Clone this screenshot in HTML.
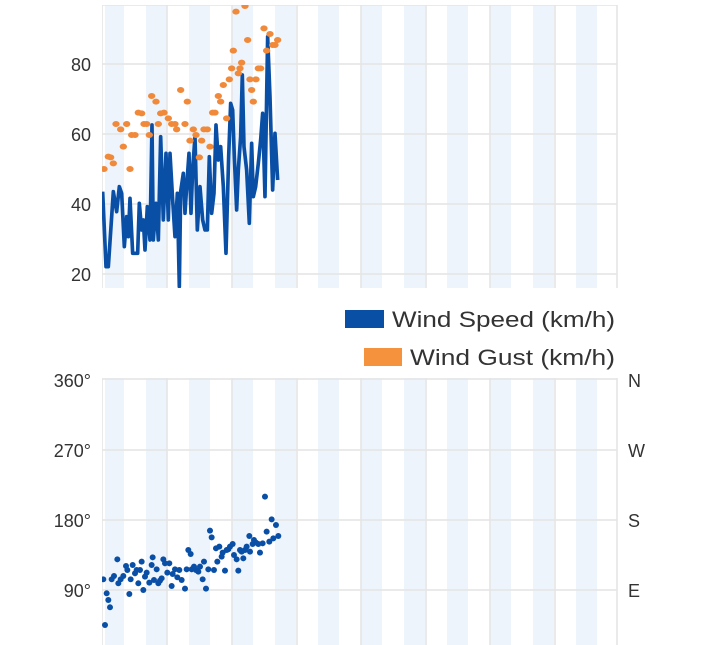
<!DOCTYPE html>
<html><head><meta charset="utf-8"><style>
html,body{margin:0;padding:0;background:#fff;width:720px;height:645px;overflow:hidden;}
svg{display:block;font-family:"Liberation Sans",sans-serif;}
</style></head><body>
<svg width="720" height="645" viewBox="0 0 720 645" xmlns="http://www.w3.org/2000/svg">
<defs>
<g id="bands" fill="#edf4fc">
<rect x="105" width="19" height="1000"/><rect x="146" width="21" height="1000"/><rect x="189" width="21" height="1000"/><rect x="232" width="21" height="1000"/><rect x="275" width="21" height="1000"/><rect x="318" width="21" height="1000"/><rect x="361" width="21" height="1000"/><rect x="404" width="21" height="1000"/><rect x="447" width="21" height="1000"/><rect x="490" width="21" height="1000"/><rect x="533" width="21" height="1000"/><rect x="576" width="21" height="1000"/>
</g>
<g id="vgrid" stroke="#e4e4e4" stroke-width="1.5">
<line x1="102" x2="102" y1="0" y2="1000"/><line x1="167" x2="167" y1="0" y2="1000"/><line x1="232" x2="232" y1="0" y2="1000"/><line x1="297" x2="297" y1="0" y2="1000"/><line x1="361" x2="361" y1="0" y2="1000"/><line x1="426" x2="426" y1="0" y2="1000"/><line x1="490" x2="490" y1="0" y2="1000"/><line x1="555" x2="555" y1="0" y2="1000"/><line x1="617" x2="617" y1="0" y2="1000"/>
</g>
<clipPath id="c1"><rect x="102" y="5" width="516" height="283"/></clipPath>
<clipPath id="c2"><rect x="102" y="378" width="516" height="267"/></clipPath>
</defs>

<g clip-path="url(#c1)">
<use href="#bands"/><use href="#vgrid"/>
<g stroke="#e4e4e4" stroke-width="1.5">
<line x1="102" x2="617" y1="5" y2="5"/><line x1="102" x2="617" y1="64" y2="64"/><line x1="102" x2="617" y1="134" y2="134"/><line x1="102" x2="617" y1="204" y2="204"/><line x1="102" x2="617" y1="274" y2="274"/>
</g>
<g transform="translate(90,0) scale(0.3333)">
<polyline fill="none" stroke="#0a4fa6" stroke-width="11" stroke-linejoin="round" points="38,575 48,800 55,800 70,575 80,635 88,560 95,580 103,740 110,650 115,710 120,595 128,760 135,760 143,760 148,610 155,690 160,660 165,750 172,620 180,720 186,375 190,720 198,610 205,720 212,410 220,660 228,460 235,660 240,460 248,600 255,710 262,580 268,860 272,575 280,520 285,640 290,560 297,460 303,640 308,510 315,410 322,690 330,560 338,660 345,690 352,690 358,470 365,640 372,580 378,375 385,480 392,440 400,560 408,760 416,470 422,310 428,330 433,470 440,630 445,510 452,410 457,225 462,440 470,510 478,670 485,430 490,590 497,560 505,490 512,420 518,340 525,590 533,110 540,290 548,570 555,400 563,540"/>
<g fill="#f08a3a">
<ellipse cx="42" cy="507" rx="11" ry="9"/><ellipse cx="55" cy="470" rx="11" ry="9"/><ellipse cx="62" cy="472" rx="11" ry="9"/><ellipse cx="70" cy="490" rx="11" ry="9"/><ellipse cx="78" cy="372" rx="11" ry="9"/><ellipse cx="92" cy="388" rx="11" ry="9"/><ellipse cx="100" cy="440" rx="11" ry="9"/><ellipse cx="110" cy="372" rx="11" ry="9"/><ellipse cx="120" cy="507" rx="11" ry="9"/><ellipse cx="125" cy="405" rx="11" ry="9"/><ellipse cx="135" cy="405" rx="11" ry="9"/><ellipse cx="145" cy="338" rx="11" ry="9"/><ellipse cx="155" cy="340" rx="11" ry="9"/><ellipse cx="162" cy="372" rx="11" ry="9"/><ellipse cx="170" cy="372" rx="11" ry="9"/><ellipse cx="178" cy="405" rx="11" ry="9"/><ellipse cx="185" cy="288" rx="11" ry="9"/><ellipse cx="198" cy="305" rx="11" ry="9"/><ellipse cx="205" cy="372" rx="11" ry="9"/><ellipse cx="212" cy="340" rx="11" ry="9"/><ellipse cx="222" cy="338" rx="11" ry="9"/><ellipse cx="235" cy="355" rx="11" ry="9"/><ellipse cx="245" cy="372" rx="11" ry="9"/><ellipse cx="255" cy="372" rx="11" ry="9"/><ellipse cx="260" cy="388" rx="11" ry="9"/><ellipse cx="272" cy="270" rx="11" ry="9"/><ellipse cx="285" cy="372" rx="11" ry="9"/><ellipse cx="292" cy="305" rx="11" ry="9"/><ellipse cx="300" cy="422" rx="11" ry="9"/><ellipse cx="310" cy="388" rx="11" ry="9"/><ellipse cx="318" cy="405" rx="11" ry="9"/><ellipse cx="328" cy="472" rx="11" ry="9"/><ellipse cx="335" cy="422" rx="11" ry="9"/><ellipse cx="342" cy="388" rx="11" ry="9"/><ellipse cx="352" cy="388" rx="11" ry="9"/><ellipse cx="360" cy="440" rx="11" ry="9"/><ellipse cx="368" cy="338" rx="11" ry="9"/><ellipse cx="375" cy="338" rx="11" ry="9"/><ellipse cx="385" cy="288" rx="11" ry="9"/><ellipse cx="392" cy="305" rx="11" ry="9"/><ellipse cx="400" cy="255" rx="11" ry="9"/><ellipse cx="410" cy="355" rx="11" ry="9"/><ellipse cx="418" cy="238" rx="11" ry="9"/><ellipse cx="425" cy="205" rx="11" ry="9"/><ellipse cx="430" cy="152" rx="11" ry="9"/><ellipse cx="438" cy="35" rx="11" ry="9"/><ellipse cx="445" cy="220" rx="11" ry="9"/><ellipse cx="450" cy="205" rx="11" ry="9"/><ellipse cx="455" cy="188" rx="11" ry="9"/><ellipse cx="465" cy="18" rx="11" ry="9"/><ellipse cx="473" cy="120" rx="11" ry="9"/><ellipse cx="480" cy="238" rx="11" ry="9"/><ellipse cx="485" cy="270" rx="11" ry="9"/><ellipse cx="490" cy="305" rx="11" ry="9"/><ellipse cx="498" cy="238" rx="11" ry="9"/><ellipse cx="505" cy="205" rx="11" ry="9"/><ellipse cx="512" cy="205" rx="11" ry="9"/><ellipse cx="522" cy="85" rx="11" ry="9"/><ellipse cx="530" cy="152" rx="11" ry="9"/><ellipse cx="540" cy="102" rx="11" ry="9"/><ellipse cx="548" cy="135" rx="11" ry="9"/><ellipse cx="555" cy="135" rx="11" ry="9"/><ellipse cx="563" cy="120" rx="11" ry="9"/>
</g>
</g>
</g>
<g fill="#333" font-size="18" text-anchor="end">
<text x="91" y="71">80</text><text x="91" y="141">60</text><text x="91" y="211">40</text><text x="91" y="281">20</text>
</g>

<rect x="345" y="310" width="39" height="18" fill="#0a4fa6"/>
<text x="392" y="327" font-size="22" fill="#333" textLength="223" lengthAdjust="spacingAndGlyphs">Wind Speed (km/h)</text>
<rect x="364" y="348" width="38" height="18" fill="#f5923e"/>
<text x="410" y="365" font-size="22" fill="#333" textLength="205" lengthAdjust="spacingAndGlyphs">Wind Gust (km/h)</text>

<g clip-path="url(#c2)">
<use href="#bands"/><use href="#vgrid"/>
<g stroke="#e4e4e4" stroke-width="1.5">
<line x1="102" x2="617" y1="379" y2="379"/><line x1="102" x2="617" y1="450" y2="450"/><line x1="102" x2="617" y1="520" y2="520"/><line x1="102" x2="617" y1="590" y2="590"/>
</g>
<g transform="translate(90,370) scale(0.3333)" fill="#0a4fa6">
<circle cx="40" cy="628" r="9"/><circle cx="45" cy="765" r="9"/><circle cx="50" cy="670" r="9"/><circle cx="55" cy="690" r="9"/><circle cx="60" cy="712" r="9"/><circle cx="65" cy="628" r="9"/><circle cx="72" cy="618" r="9"/><circle cx="82" cy="568" r="9"/><circle cx="85" cy="640" r="9"/><circle cx="92" cy="628" r="9"/><circle cx="100" cy="618" r="9"/><circle cx="108" cy="588" r="9"/><circle cx="112" cy="600" r="9"/><circle cx="118" cy="672" r="9"/><circle cx="122" cy="628" r="9"/><circle cx="128" cy="585" r="9"/><circle cx="135" cy="610" r="9"/><circle cx="140" cy="600" r="9"/><circle cx="145" cy="640" r="9"/><circle cx="150" cy="600" r="9"/><circle cx="155" cy="575" r="9"/><circle cx="160" cy="660" r="9"/><circle cx="165" cy="620" r="9"/><circle cx="170" cy="608" r="9"/><circle cx="178" cy="638" r="9"/><circle cx="185" cy="585" r="9"/><circle cx="188" cy="562" r="9"/><circle cx="192" cy="630" r="9"/><circle cx="200" cy="598" r="9"/><circle cx="205" cy="640" r="9"/><circle cx="210" cy="632" r="9"/><circle cx="215" cy="625" r="9"/><circle cx="220" cy="568" r="9"/><circle cx="225" cy="580" r="9"/><circle cx="232" cy="608" r="9"/><circle cx="238" cy="580" r="9"/><circle cx="245" cy="648" r="9"/><circle cx="248" cy="612" r="9"/><circle cx="255" cy="598" r="9"/><circle cx="262" cy="622" r="9"/><circle cx="268" cy="600" r="9"/><circle cx="275" cy="630" r="9"/><circle cx="285" cy="656" r="9"/><circle cx="290" cy="598" r="9"/><circle cx="295" cy="540" r="9"/><circle cx="302" cy="552" r="9"/><circle cx="305" cy="598" r="9"/><circle cx="312" cy="590" r="9"/><circle cx="318" cy="600" r="9"/><circle cx="325" cy="605" r="9"/><circle cx="330" cy="590" r="9"/><circle cx="338" cy="628" r="9"/><circle cx="342" cy="575" r="9"/><circle cx="348" cy="656" r="9"/><circle cx="355" cy="598" r="9"/><circle cx="360" cy="482" r="9"/><circle cx="365" cy="502" r="9"/><circle cx="372" cy="600" r="9"/><circle cx="378" cy="535" r="9"/><circle cx="382" cy="575" r="9"/><circle cx="388" cy="530" r="9"/><circle cx="395" cy="560" r="9"/><circle cx="398" cy="548" r="9"/><circle cx="405" cy="602" r="9"/><circle cx="410" cy="540" r="9"/><circle cx="415" cy="538" r="9"/><circle cx="420" cy="530" r="9"/><circle cx="428" cy="522" r="9"/><circle cx="432" cy="555" r="9"/><circle cx="440" cy="568" r="9"/><circle cx="445" cy="602" r="9"/><circle cx="450" cy="540" r="9"/><circle cx="455" cy="545" r="9"/><circle cx="460" cy="565" r="9"/><circle cx="465" cy="540" r="9"/><circle cx="470" cy="530" r="9"/><circle cx="478" cy="498" r="9"/><circle cx="480" cy="545" r="9"/><circle cx="488" cy="522" r="9"/><circle cx="492" cy="510" r="9"/><circle cx="498" cy="518" r="9"/><circle cx="505" cy="522" r="9"/><circle cx="510" cy="548" r="9"/><circle cx="518" cy="520" r="9"/><circle cx="525" cy="380" r="9"/><circle cx="530" cy="485" r="9"/><circle cx="538" cy="515" r="9"/><circle cx="545" cy="448" r="9"/><circle cx="550" cy="505" r="9"/><circle cx="558" cy="465" r="9"/><circle cx="565" cy="498" r="9"/>
</g>
</g>
<g fill="#333" font-size="18" text-anchor="end">
<text x="91" y="387">360°</text><text x="91" y="457">270°</text><text x="91" y="527">180°</text><text x="91" y="597">90°</text>
</g>
<g fill="#333" font-size="18">
<text x="628" y="387">N</text><text x="628" y="457">W</text><text x="628" y="527">S</text><text x="628" y="597">E</text>
</g>
</svg>
</body></html>
